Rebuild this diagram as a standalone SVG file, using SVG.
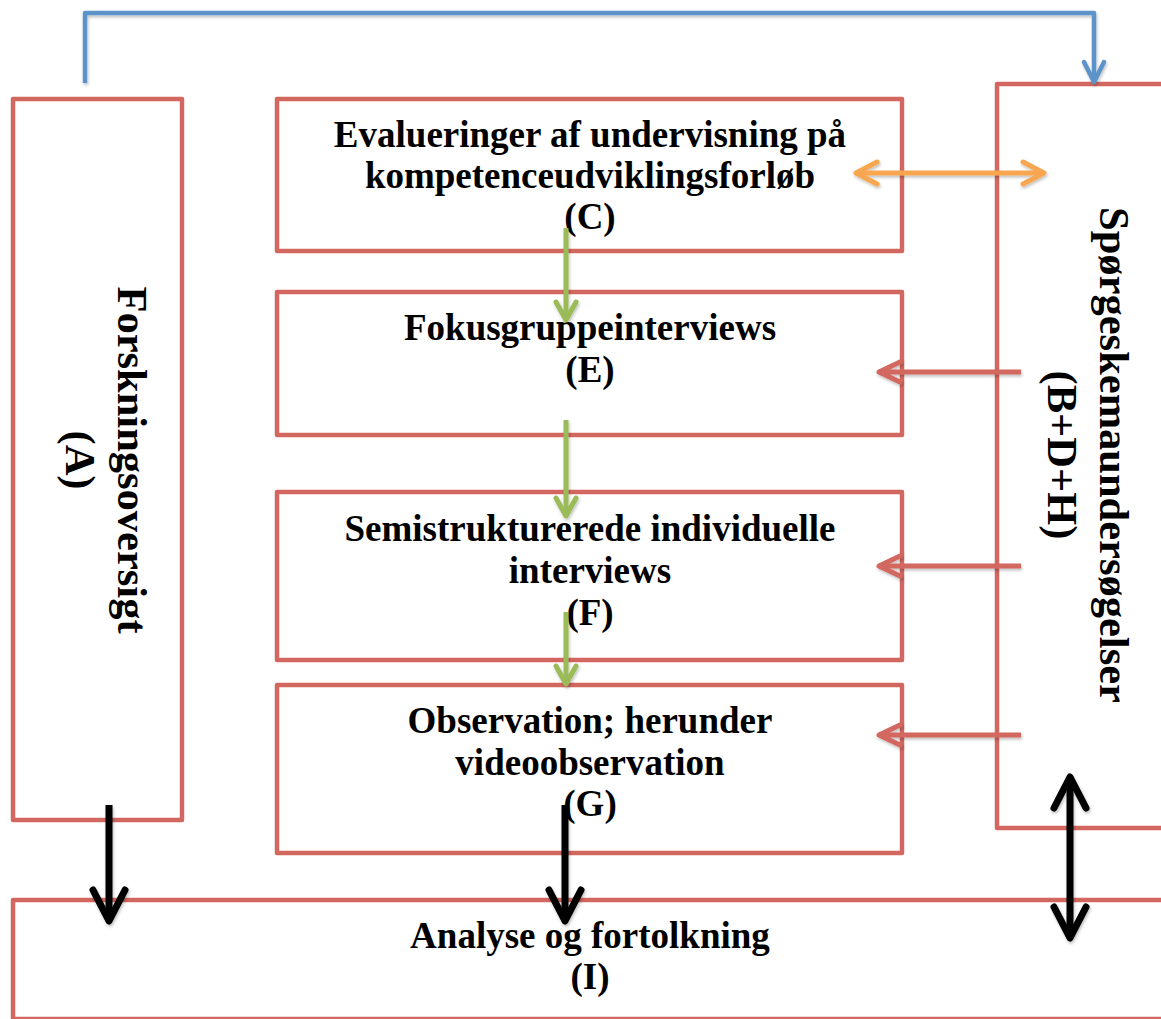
<svg xmlns="http://www.w3.org/2000/svg" width="1161" height="1019" viewBox="0 0 1161 1019">
  <defs>
    <style>
      .box { fill: #ffffff; stroke: #d2675f; stroke-width: 4.5; stroke-linejoin: round; }
      .lbl { font-family: "Liberation Serif", "Times New Roman", serif; font-weight: bold; font-size: 37px; fill: #000000; text-anchor: middle; }
      .vlbl { font-family: "Liberation Serif", "Times New Roman", serif; font-weight: bold; font-size: 42.5px; fill: #000000; text-anchor: middle; }
      .con { fill: none; stroke-linejoin: round; }
      .head { fill: none; stroke-linecap: round; stroke-linejoin: round; }
    </style>
    <filter id="soft" x="-20%" y="-20%" width="140%" height="140%">
      <feDropShadow dx="1" dy="2" stdDeviation="1.5" flood-color="#000000" flood-opacity="0.25"/>
    </filter>
    <marker id="hBlue" markerUnits="userSpaceOnUse" markerWidth="30" markerHeight="30" viewBox="-24 -15 30 30" refX="0" refY="0" orient="auto-start-reverse" overflow="visible">
      <path class="head" d="M-20,-10 L0,0 L-20,10" stroke="#5b93c9" stroke-width="4.5"/>
    </marker>
    <marker id="hOrange" markerUnits="userSpaceOnUse" markerWidth="30" markerHeight="30" viewBox="-24 -15 30 30" refX="0" refY="0" orient="auto-start-reverse" overflow="visible">
      <path class="head" d="M-21,-11 L0,0 L-21,11" stroke="#f8a650" stroke-width="5"/>
    </marker>
    <marker id="hGreen" markerUnits="userSpaceOnUse" markerWidth="30" markerHeight="30" viewBox="-24 -15 30 30" refX="0" refY="0" orient="auto-start-reverse" overflow="visible">
      <path class="head" d="M-18,-10 L0,0 L-18,10" stroke="#9bbb59" stroke-width="5"/>
    </marker>
    <marker id="hRed" markerUnits="userSpaceOnUse" markerWidth="30" markerHeight="30" viewBox="-24 -15 30 30" refX="0" refY="0" orient="auto-start-reverse" overflow="visible">
      <path class="head" d="M-21,-10 L0,0 L-21,10" stroke="#d2675f" stroke-width="5"/>
    </marker>
    <marker id="hBlack" markerUnits="userSpaceOnUse" markerWidth="40" markerHeight="40" viewBox="-36 -20 40 40" refX="0" refY="0" orient="auto-start-reverse" overflow="visible">
      <path class="head" d="M-31,-16 L0,0 L-31,16" stroke="#000000" stroke-width="7"/>
    </marker>
  </defs>

  <rect width="1161" height="1019" fill="#ffffff"/>

  <!-- nodes -->
  <g id="node-A">
    <rect class="box" x="13" y="99" width="169" height="721"/>
    <g transform="translate(118 460) rotate(90)">
      <text class="vlbl" x="0" y="0">Forskningsoversigt</text>
      <text class="vlbl" x="0" y="52">(A)</text>
    </g>
  </g>

  <g id="node-BDH">
    <rect class="box" x="997" y="84" width="300" height="744"/>
    <g transform="translate(1100 455) rotate(90)">
      <text class="vlbl" x="0" y="0">Spørgeskemaundersøgelser</text>
      <text class="vlbl" x="0" y="52">(B+D+H)</text>
    </g>
  </g>

  <g id="node-C">
    <rect class="box" x="277" y="99" width="625" height="152"/>
    <text class="lbl" x="590" y="147">Evalueringer af undervisning på</text>
    <text class="lbl" x="590" y="188">kompetenceudviklingsforløb</text>
    <text class="lbl" x="590" y="229">(C)</text>
  </g>

  <g id="node-E">
    <rect class="box" x="277" y="292" width="625" height="143"/>
    <text class="lbl" x="590" y="340">Fokusgruppeinterviews</text>
    <text class="lbl" x="590" y="382">(E)</text>
  </g>

  <g id="node-F">
    <rect class="box" x="277" y="492" width="625" height="168"/>
    <text class="lbl" x="590" y="541">Semistrukturerede individuelle</text>
    <text class="lbl" x="590" y="583">interviews</text>
    <text class="lbl" x="590" y="625">(F)</text>
  </g>

  <g id="node-G">
    <rect class="box" x="277" y="685" width="625" height="168"/>
    <text class="lbl" x="590" y="733">Observation; herunder</text>
    <text class="lbl" x="590" y="775">videoobservation</text>
    <text class="lbl" x="590" y="816">(G)</text>
  </g>

  <g id="node-I">
    <rect class="box" x="13" y="900" width="1200" height="119"/>
    <text class="lbl" x="590" y="948">Analyse og fortolkning</text>
    <text class="lbl" x="590" y="989">(I)</text>
  </g>

  <!-- connectors -->
  <g id="connectors" filter="url(#soft)">
    <path class="con" d="M85,83 L85,13 L1094,13 L1094,82" stroke="#5b93c9" stroke-width="4.5" marker-end="url(#hBlue)"/>
    <path class="con" d="M856,173 L1044,173" stroke="#f8a650" stroke-width="5" marker-start="url(#hOrange)" marker-end="url(#hOrange)"/>
    <path class="con" d="M566,228 L566,320" stroke="#9bbb59" stroke-width="5" marker-end="url(#hGreen)"/>
    <path class="con" d="M566,420 L566,516" stroke="#9bbb59" stroke-width="5" marker-end="url(#hGreen)"/>
    <path class="con" d="M566,612 L566,684" stroke="#9bbb59" stroke-width="5" marker-end="url(#hGreen)"/>
    <path class="con" d="M1021,372 L879,372" stroke="#d2675f" stroke-width="5" marker-end="url(#hRed)"/>
    <path class="con" d="M1021,566 L879,566" stroke="#d2675f" stroke-width="5" marker-end="url(#hRed)"/>
    <path class="con" d="M1021,735 L879,735" stroke="#d2675f" stroke-width="5" marker-end="url(#hRed)"/>
    <path class="con" d="M109,805 L109,921" stroke="#000000" stroke-width="7" marker-end="url(#hBlack)"/>
    <path class="con" d="M565,805 L565,921" stroke="#000000" stroke-width="7" marker-end="url(#hBlack)"/>
    <path class="con" d="M1070,777 L1070,938" stroke="#000000" stroke-width="7" marker-start="url(#hBlack)" marker-end="url(#hBlack)"/>
  </g>
</svg>
